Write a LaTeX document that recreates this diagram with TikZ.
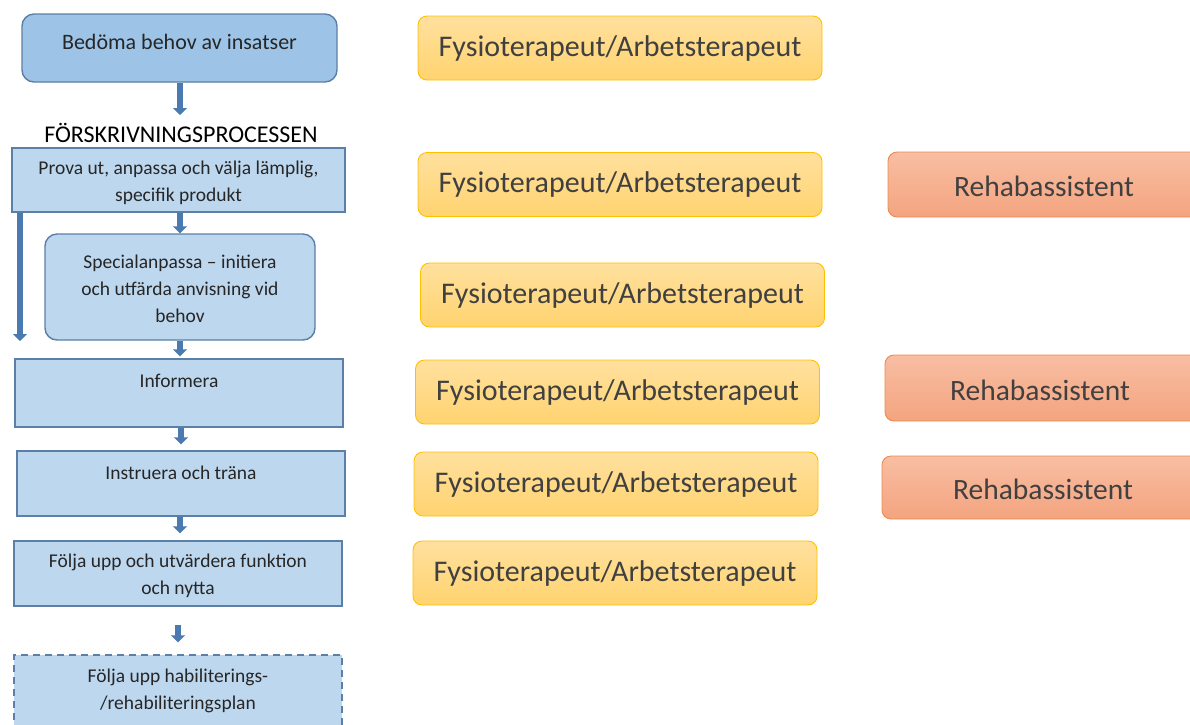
\documentclass[tikz,border=0pt]{standalone}
\usepackage{fontspec}
\setmainfont{Carlito}
\usetikzlibrary{arrows.meta}
\definecolor{bfill}{HTML}{BDD7EE}
\definecolor{bfilldk}{HTML}{9DC3E6}
\definecolor{bdraw}{HTML}{5B7FA6}
\definecolor{arrc}{HTML}{4A7AB0}
\definecolor{ytop}{HTML}{FFE09E}
\definecolor{ybot}{HTML}{FFD36F}
\definecolor{ydraw}{HTML}{FFC000}
\definecolor{otop}{HTML}{F8BEA3}
\definecolor{obot}{HTML}{F4A47F}
\definecolor{odraw}{HTML}{EE8A4A}
\definecolor{tgray}{HTML}{404040}
\tikzset{
  x=1pt, y=-1pt,
  lbox/.style={draw=bdraw, line width=1.4pt, fill=bfill, inner sep=0pt},
  lround/.style={lbox, rounded corners=12pt},
  ltext/.style={font=\fontsize{19.5}{27}\selectfont, align=center, text=black!85},
  ybox/.style={draw=ydraw, line width=0.9pt, top color=ytop, bottom color=ybot, rounded corners=9pt,
    minimum width=404pt, minimum height=64pt, inner sep=0pt, text=tgray, font=\fontsize{30}{34}\selectfont},
  obox/.style={draw=odraw, line width=0.9pt, top color=otop, bottom color=obot, rounded corners=9pt,
    minimum width=320pt, minimum height=64pt, inner sep=0pt},
  otext/.style={text=tgray, font=\fontsize{29.5}{34}\selectfont},
  flow/.style={draw=arrc, line width=5.5pt, -{Triangle[width=14pt,length=7pt]}, color=arrc},
}
\begin{document}
\begin{tikzpicture}
\useasboundingbox (0,0) rectangle (1190,724);
\clip (0,0) rectangle (1190,724);
% left column boxes
\node[lround, fill=bfilldk, draw=bdraw, minimum width=315pt, minimum height=68pt] (bed) at (179.5,48) {};
\node[ltext, font=\fontsize{22}{26}\selectfont] (bedt) at (179.5,42) {Bedöma behov av insatser};
\node[font=\fontsize{24}{28}\selectfont, text=black] (title) at (181,133) {FÖRSKRIVNINGSPROCESSEN};
\coordinate (tin) at (180,115);
\node[lbox, minimum width=333pt, minimum height=64pt] (prova) at (178.5,180) {};
\node[ltext] (provat) at (178.5,183) {Prova ut, anpassa och välja lämplig,\\specifik produkt};
\node[lround, minimum width=270pt, minimum height=106pt] (spec) at (180,287) {};
\node[ltext] (spect) at (180,289) {Specialanpassa – initiera\\och utfärda anvisning vid\\behov};
\node[lbox, minimum width=328pt, minimum height=68pt] (inf) at (179,393) {};
\node[ltext] (inft) at (179,381) {Informera};
\node[lbox, minimum width=328pt, minimum height=65pt] (ins) at (181,483.5) {};
\node[ltext] (inst) at (181,473) {Instruera och träna};
\node[lbox, minimum width=328pt, minimum height=65pt] (fol) at (178,573.5) {};
\node[ltext] (folt) at (178,575.5) {Följa upp och utvärdera funktion\\och nytta};
\node[lbox, dashed, dash pattern=on 7pt off 5pt, minimum width=328pt, minimum height=90pt] (hab) at (178,700) {};
\node[ltext] (habt) at (178,691) {Följa upp habiliterings-\\/rehabiliteringsplan};
% arrows
\draw[flow] (bed.south -| tin) -- (tin);
\draw[flow] (prova.south -| spec.north) -- (spec.north);
\draw[flow] (spec.south) -- ([yshift=2pt]inf.north -| spec.south);
\draw[flow, shorten >=6pt] (inf.south -| ins.north) -- (ins.north);
\draw[flow, shorten >=7pt] (ins.south -| 180,0) -- (fol.north -| 180,0);
\draw[flow, shorten <=18pt, shorten >=12pt] (fol.south) -- (hab.north);
\coordinate (lend) at (20,341);
\draw[flow] (prova.south -| lend) -- (lend);
% right column
\node[ybox] (y1) at (620,48) {Fysioterapeut/Arbetsterapeut};
\node[ybox] (y2) at (620,184.5) {Fysioterapeut/Arbetsterapeut};
\node[ybox] (y3) at (622.5,295) {Fysioterapeut/Arbetsterapeut};
\node[ybox] (y4) at (617.5,392) {Fysioterapeut/Arbetsterapeut};
\node[ybox] (y5) at (616,484) {Fysioterapeut/Arbetsterapeut};
\node[ybox] (y6) at (615,573) {Fysioterapeut/Arbetsterapeut};
\node[obox, minimum width=330pt, minimum height=65pt] (o1) at (1053,184.5) {};
\node[otext] (o1t) at (1044,186) {Rehabassistent};
\node[obox, minimum width=330pt, minimum height=66pt] (o2) at (1050,388) {};
\node[otext] (o2t) at (1040,390) {Rehabassistent};
\node[obox, minimum width=330pt, minimum height=63pt] (o3) at (1047,487.5) {};
\node[otext] (o3t) at (1043,489) {Rehabassistent};
\end{tikzpicture}
\end{document}
